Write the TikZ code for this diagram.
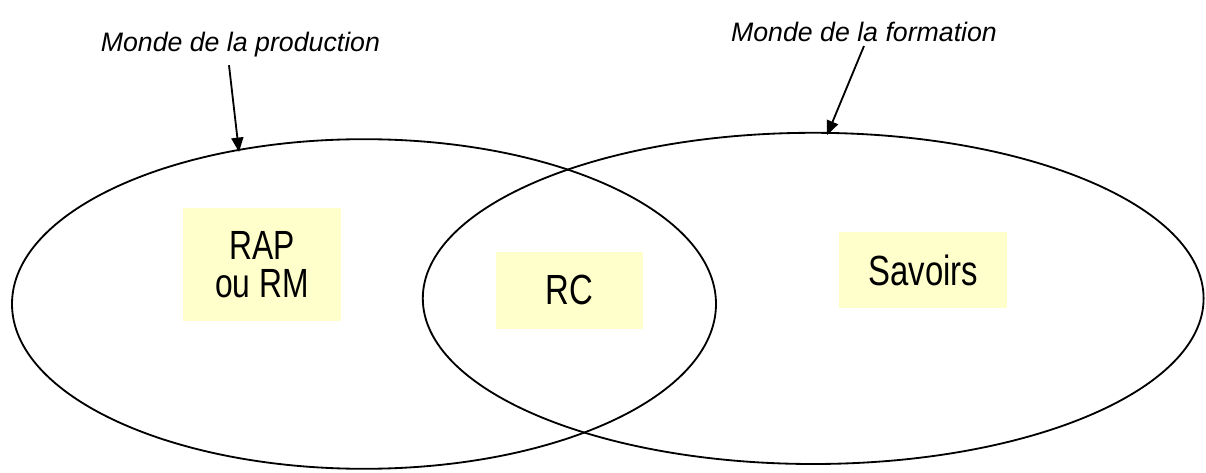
\documentclass[tikz,border=0pt]{standalone}
\usepackage{fontspec}
\setmainfont{Liberation Sans}
\newfontfamily\narrowfont[FakeStretch=0.78]{Liberation Sans}
\usetikzlibrary{arrows.meta}
\definecolor{jaunepale}{RGB}{255,255,204}
\tikzset{
  cadre/.style={fill=jaunepale, inner sep=0pt, align=center},
  monde/.style={font=\itshape\fontsize{19}{22}\selectfont, anchor=base},
  fleche/.style={line width=1.3pt, -{Triangle[length=0.36cm, width=0.3cm]}}
}
\begin{document}
\begin{tikzpicture}
\useasboundingbox (0,0) rectangle (30.15,11.8);

%les deux mondes
\draw[line width=1.3pt] (9.1,4.2) ellipse [x radius=8.8, y radius=4.12];
\draw[line width=1.3pt] (20.33,4.34) ellipse [x radius=9.76, y radius=4.14];

%les cadres
\node[cadre, minimum width=3.95cm, minimum height=2.825cm, font=\narrowfont\fontsize{29}{27}\selectfont] at (6.55,5.19) (rap) {RAP\\ou RM};
\node[cadre, minimum width=3.675cm, minimum height=1.925cm, font=\narrowfont\fontsize{30}{30}\selectfont] at (14.24,4.54) (rc) {RC};
\node[cadre, minimum width=4.2cm, minimum height=1.9cm, font=\narrowfont\fontsize{30}{30}\selectfont] at (23.08,5.05) (savoirs) {Savoirs};

%les titres
\node[monde] at (6.01,10.5) (production) {Monde de la production};
\node[monde] at (21.6,10.75) (formation) {Monde de la formation};

%les fleches
\coordinate (prodhaut) at (5.725,10.17);
\coordinate (prodbas) at (5.975,8.0);
\coordinate (formhaut) at (21.6,10.65);
\coordinate (formbas) at (20.675,8.42);
\draw[fleche] (prodhaut) -- (prodbas);
\draw[fleche] (formhaut) -- (formbas);

\end{tikzpicture}
\end{document}
